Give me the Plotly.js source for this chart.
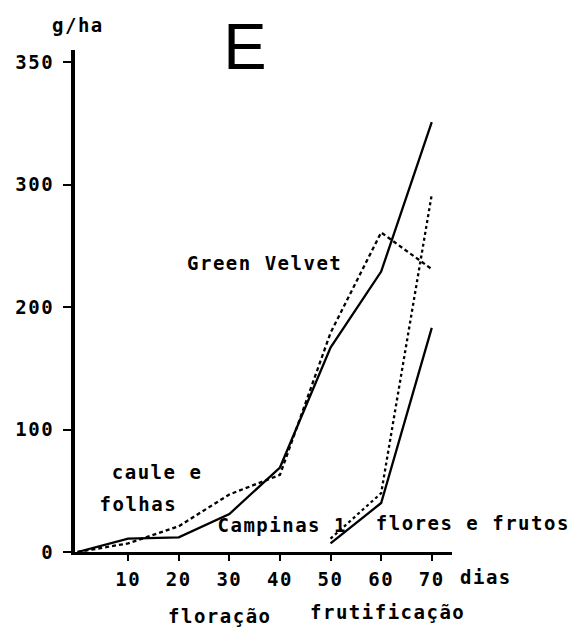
<!DOCTYPE html>
<html>
<head>
<meta charset="utf-8">
<script src="https://cdn.plot.ly/plotly-3.0.1.min.js"></script>
<style>
html,body{margin:0;padding:0;background:#fff;}
#chart text{letter-spacing:1.5px;}
</style>
</head>
<body>
<div id="chart" style="width:576px;height:628px;"></div>
<script>
// Days after planting
var days = [0, 10, 20, 30, 40, 50, 60, 70];
// Caule e folhas (stems and leaves), g/ha
var cauleCampinas = [0, 11, 12, 31, 69, 167, 229, 351];
var cauleGreenVelvet = [0, 7, 21, 47, 63, 179, 261, 231];
// Flores e frutos (flowers and fruits), g/ha
var floresDays = [50, 60, 70];
var floresCampinas = [7, 40, 183];
var floresGreenVelvet = [11, 48, 292];
// Tick labels
var xTickVals = [10, 20, 30, 40, 50, 60, 70];
var xTickText = ['10', '20', '30', '40', '50', '60', '70'];
var yTickVals = [0, 100, 200, 300, 400];
var yTickText = ['0', '100', '200', '300', '350'];

var mono = 'DejaVu Sans Mono, monospace';
var black = '#000';

var traces = [
  {x: days, y: cauleCampinas, mode: 'lines', name: 'Campinas 1 caule e folhas',
   line: {color: black, width: 2.3}},
  {x: days, y: cauleGreenVelvet, mode: 'lines', name: 'Green Velvet caule e folhas',
   line: {color: black, width: 2.3, dash: '4px,3px'}},
  {x: floresDays, y: floresCampinas, mode: 'lines', name: 'Campinas 1 flores e frutos',
   line: {color: black, width: 2.3}},
  {x: floresDays, y: floresGreenVelvet, mode: 'lines', name: 'Green Velvet flores e frutos',
   line: {color: black, width: 2.3, dash: '3px,3px'}}
];

function lab(text, x, y, ref) {
  return {text: text, x: x, y: y, xref: ref ? 'paper' : 'x', yref: ref ? 'paper' : 'y',
          xanchor: 'left', yanchor: 'middle',
          showarrow: false, font: {family: mono, size: 19, color: black, weight: 'bold'}};
}

var tickFont = {family: mono, size: 19, color: black, weight: 'bold'};

var layout = {
  width: 576, height: 628,
  margin: {l: 75, r: 124, t: 50, b: 75.5},
  paper_bgcolor: '#fff', plot_bgcolor: '#fff',
  showlegend: false,
  xaxis: {
    range: [-0.5, 74], showgrid: false, zeroline: false,
    showline: true, linewidth: 3, linecolor: black,
    ticks: 'outside', ticklen: 6, tickwidth: 2, tickcolor: black,
    tickvals: xTickVals, ticktext: xTickText, ticklabelstandoff: 2,
    tickfont: tickFont
  },
  yaxis: {
    range: [0, 410], showgrid: false, zeroline: false,
    showline: true, linewidth: 4, linecolor: black,
    ticks: 'outside', ticklen: 8, tickwidth: 2, tickcolor: black,
    tickvals: yTickVals, ticktext: yTickText, ticklabelstandoff: 5,
    tickfont: tickFont
  },
  annotations: [
    lab('Green Velvet', 23.0, 236),
    lab('caule e', 7.4, 65),
    lab('folhas', 4.8, 39),
    lab('Campinas 1', 28.8, 22.4),
    lab('flores e frutos', 60.8, 24),
    lab('dias', 1.025, -0.0507, true),
    lab('floração', 0.258, -0.128, true),
    lab('frutificação', 0.642, -0.120, true),
    lab('g/ha', -0.058, 1.0498, true),
    {text: 'E', x: 0.390, y: 1.006, xref: 'paper', yref: 'paper', xanchor: 'left', yanchor: 'middle',
     showarrow: false, font: {family: 'Liberation Sans, Arial, sans-serif', size: 65, color: black}}
  ]
};

Plotly.newPlot('chart', traces, layout, {displayModeBar: false, staticPlot: true});
</script>
</body>
</html>
